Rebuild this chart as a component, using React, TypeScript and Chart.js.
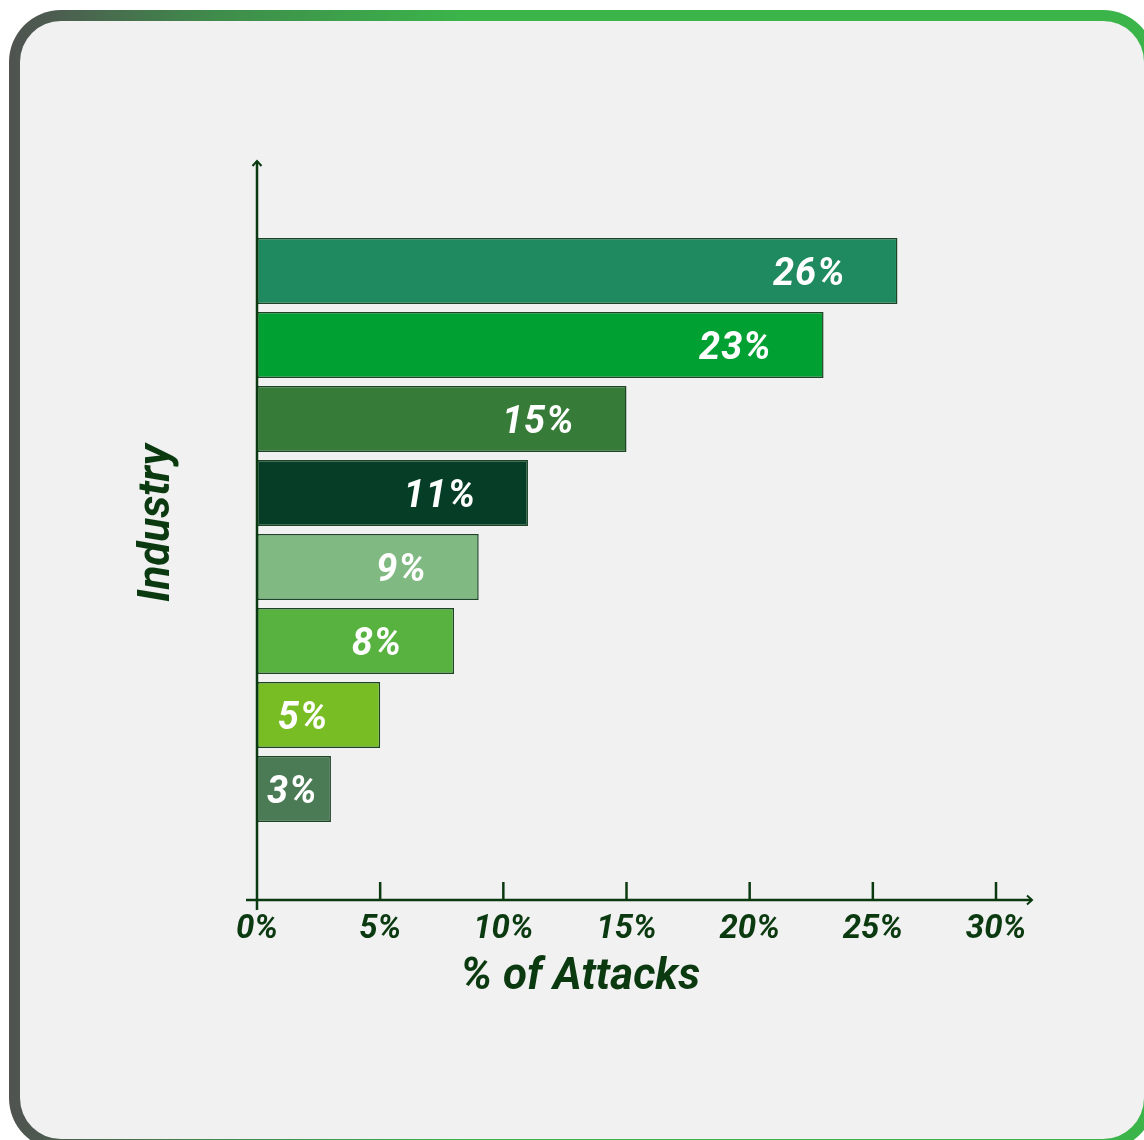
import React, { useEffect, useRef } from "react";
import { Chart, registerables } from "chart.js";

Chart.register(...registerables);

const categories = ["Industry 1", "Industry 2", "Industry 3", "Industry 4", "Industry 5", "Industry 6", "Industry 7", "Industry 8"];
const attackShare = [26, 23, 15, 11, 9, 8, 5, 3];
const barColors = ["#1f8a5f", "#00a032", "#367c38", "#063d27", "#80b981", "#58b23f", "#78bd23", "#4a7b55"];
const xTickValues = [0, 5, 10, 15, 20, 25, 30];
const xTitle = "% of Attacks";
const yTitle = "Industry";

const AXIS = "#0b3a10";
const FONT = "Roboto, 'Noto Sans', sans-serif";

const decorPlugin = {
  id: "decor",
  afterDatasetsDraw(chart: any) {
    const ctx = chart.ctx;
    const { chartArea } = chart;
    const xs = chart.scales.x;
    const x0 = xs.getPixelForValue(0);
    const top = chartArea.top;
    const bottom = chartArea.bottom;
    ctx.save();

    // bar value labels
    const meta = chart.getDatasetMeta(0);
    ctx.font = `italic bold 38px ${FONT}`;
    ctx.fillStyle = "#ffffff";
    (ctx as any).letterSpacing = "1px";
    ctx.textBaseline = "middle";
    ctx.textAlign = "left";
    meta.data.forEach((bar: any, i: number) => {
      const v = chart.data.datasets[0].data[i];
      if (v == null) return;
      const txt = `${v}%`;
      const w = ctx.measureText(txt).width;
      let left = bar.x - 52 - w;
      if (left < bar.base + 10) left = bar.base + 10;
      ctx.fillText(txt, left, bar.y + 4);
    });
    (ctx as any).letterSpacing = "0px";

    ctx.strokeStyle = AXIS;
    ctx.lineWidth = 2.5;
    ctx.lineCap = "butt";
    // y axis
    ctx.beginPath();
    ctx.moveTo(x0, top + 1);
    ctx.lineTo(x0, bottom + 10);
    ctx.stroke();
    // y arrow
    ctx.lineWidth = 2;
    ctx.beginPath();
    ctx.moveTo(x0 - 4.5, top + 6);
    ctx.lineTo(x0, top + 1);
    ctx.lineTo(x0 + 4.5, top + 6);
    ctx.stroke();
    // x axis
    const xEnd = chartArea.right + 37;
    ctx.lineWidth = 2.5;
    ctx.beginPath();
    ctx.moveTo(x0 - 11, bottom);
    ctx.lineTo(xEnd - 1, bottom);
    ctx.stroke();
    ctx.lineWidth = 2;
    ctx.beginPath();
    ctx.moveTo(xEnd - 6, bottom - 4.5);
    ctx.lineTo(xEnd - 1, bottom);
    ctx.lineTo(xEnd - 6, bottom + 4.5);
    ctx.stroke();
    // ticks
    ctx.lineWidth = 2.5;
    xTickValues.forEach((t) => {
      if (t === 0) return;
      const px = xs.getPixelForValue(t);
      ctx.beginPath();
      ctx.moveTo(px, bottom - 18);
      ctx.lineTo(px, bottom);
      ctx.stroke();
    });

    // titles
    ctx.fillStyle = AXIS;
    ctx.font = `italic bold 44px ${FONT}`;
    ctx.textAlign = "center";
    ctx.textBaseline = "middle";
    const w = chartArea.right - chartArea.left;
    ctx.fillText(xTitle, chartArea.left + w * 0.4375, bottom + 78);
    ctx.translate(chartArea.left - 99, (top + bottom) / 2 - 7);
    ctx.rotate(-Math.PI / 2);
    ctx.fillText(yTitle, 0, 0);
    ctx.restore();
  },
};

export default function App() {
  const ref = useRef<HTMLCanvasElement | null>(null);
  useEffect(() => {
    if (!ref.current) return;
    const labels = ["", ...categories, ""];
    const data = [null, ...attackShare, null];
    const colors = ["transparent", ...barColors, "transparent"];
    const chart = new Chart(ref.current, {
      type: "bar",
      data: {
        labels,
        datasets: [
          {
            data: data as any,
            backgroundColor: colors,
            borderColor: "#1c4526",
            borderWidth: 1.5,
            borderSkipped: false,
            barPercentage: 66 / 74,
            categoryPercentage: 1,
          },
        ],
      },
      options: {
        indexAxis: "y",
        responsive: false,
        animation: false,
        devicePixelRatio: 1,
        layout: { padding: { left: 257, right: 148, top: 160, bottom: 170 } },
        plugins: { legend: { display: false }, tooltip: { enabled: false }, title: { display: false } },
        scales: {
          x: {
            type: "linear",
            min: xTickValues[0],
            max: xTickValues[xTickValues.length - 1],
            grid: { display: false },
            border: { display: false },
            ticks: {
              stepSize: 5,
              padding: 2,
              color: AXIS,
              font: { family: FONT, size: 33, weight: "bold", style: "italic" },
              callback: (v: any) => `${v}%`,
            },
            afterFit: (scale: any) => {
              scale.height = 70;
              scale.paddingLeft = 0;
              scale.paddingRight = 0;
            },
          },
          y: { display: false, grid: { display: false } },
        },
      },
      plugins: [decorPlugin],
    });
    return () => chart.destroy();
  }, []);

  return (
    <div style={{ position: "fixed", left: 0, top: 0, width: 1144, height: 1140, overflow: "hidden", background: "#ffffff" }}>
      <div
        style={{
          position: "absolute",
          left: 9,
          top: 10,
          width: 1146,
          height: 1140,
          borderRadius: 52,
          background: "linear-gradient(90deg, #505350 0%, #4d5a50 3%, #3f8c4b 18%, #3bb54a 40%, #3bb54a 100%)",
        }}
      >
        <div
          style={{
            position: "absolute",
            left: 11,
            top: 11,
            right: 11,
            bottom: 11,
            borderRadius: 41,
            background: "#f1f1f1",
          }}
        />
      </div>
      <canvas ref={ref} width={1144} height={1140} style={{ position: "absolute", left: 0, top: 0 }} />
    </div>
  );
}
